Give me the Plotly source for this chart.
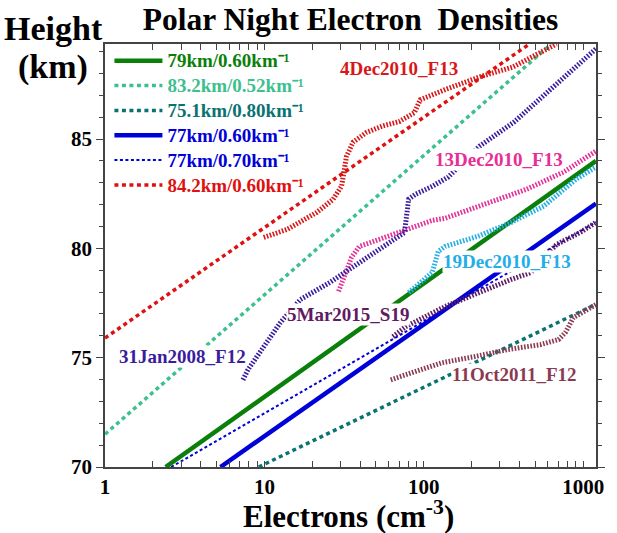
import plotly.graph_objects as go

# ---------------- data ----------------
# model (Wait-type) profiles: straight lines in log(Ne) vs height
M79_X = [2.4, 1202]
M79_H = [70.0, 84.0]
M832_X = [1.0, 630]
M832_H = [71.5, 89.35]
M751_X = [9.2, 1202]
M751_H = [70.0, 77.45]
M77_X = [5.3, 1202]
M77_H = [70.0, 82.05]
M77B_X = [2.6, 1202]
M77B_H = [70.0, 81.2]
M842_X = [1.0, 460]
M842_H = [75.9, 89.35]

# measured profiles
DEC4_X = [9.9, 13.9, 21.3, 27, 30.5, 31.5, 32.7, 36, 43.6, 55, 70, 87, 95, 140, 225, 363, 680]
DEC4_H = [80.5, 80.87, 81.65, 82.25, 82.85, 83.5, 84.2, 84.86, 85.3, 85.6, 85.8, 86.2, 86.8, 87.3, 87.85, 88.3, 89.35]
DEC13_X = [29.2, 31.8, 35.2, 39.4, 66.7, 113, 136, 218, 443, 751, 1202]
DEC13_H = [78.03, 78.81, 79.59, 80.09, 80.69, 81.28, 81.38, 81.93, 82.71, 83.49, 84.45]
DEC19_X = [80.3, 113, 123, 136, 218, 353, 565, 904, 1202]
DEC19_H = [77.98, 78.9, 79.86, 80.09, 80.55, 81.19, 81.93, 83.17, 83.72]
JAN31_X = [7.34, 7.88, 12.6, 16.8, 25.7, 36.2, 43.5, 52.4, 75.7, 80.3, 88.8, 113, 142, 224, 368, 1202]
JAN31_H = [73.99, 74.45, 76.61, 77.66, 78.44, 79.17, 79.59, 79.95, 80.73, 82.25, 82.48, 82.84, 83.26, 84.68, 85.78, 89.13]
MAR5_X = [64, 76.9, 136, 218, 353, 470, 680, 957, 1202]
MAR5_H = [75.96, 76.42, 77.34, 77.98, 78.58, 78.9, 80.18, 80.73, 81.19]
OCT11_X = [62, 130, 208, 334, 541, 700, 773, 866, 1202]
OCT11_H = [73.99, 74.77, 75.05, 75.37, 75.6, 75.83, 76.15, 76.83, 77.43]

X_TICKS = [1, 2, 3, 4, 5, 6, 7, 8, 9, 10, 20, 30, 40, 50, 60, 70, 80, 90,
           100, 200, 300, 400, 500, 600, 700, 800, 900, 1000]
X_TICKTEXT = ["1"] + [""] * 8 + ["10"] + [""] * 8 + ["100"] + [""] * 8 + ["1000"]
Y_TICKS = [70, 75, 80, 85]
Y_TICKTEXT = ["70", "75", "80", "85"]

TITLE = "Polar Night Electron&nbsp; Densities"
LABELS = ["4Dec2010_F13", "13Dec2010_F13", "19Dec2010_F13",
          "5Mar2015_S19", "31Jan2008_F12", "11Oct2011_F12"]

# ---------------- styles ----------------
SERIF = "Liberation Serif"
C_GREEN = "#0a7f0a"
C_SEA = "#3cc08e"
C_TEAL = "#0a7272"
C_BLUE = "#0000d8"
C_RED = "#e01010"
C_DEC4 = "#d81818"
C_DEC13 = "#e62e96"
C_DEC19 = "#22aee6"
C_JAN31 = "#3a1c9e"
C_MAR5 = "#5e1a62"
C_OCT11 = "#8a3a52"

fig = go.Figure()


def leg(text, color):
    return f'<span style="color:{color};font-size:19px">{text}km⁻¹</span>'


models = [
    (M79_X, M79_H, leg("79km/0.60", C_GREEN), C_GREEN, 4.5, "solid"),
    (M832_X, M832_H, leg("83.2km/0.52", C_SEA), C_SEA, 3.5, "4px,3.5px"),
    (M751_X, M751_H, leg("75.1km/0.80", C_TEAL), C_TEAL, 3.5, "4px,3.5px"),
    (M77_X, M77_H, leg("77km/0.60", C_BLUE), C_BLUE, 4.5, "solid"),
    (M77B_X, M77B_H, leg("77km/0.70", C_BLUE), C_BLUE, 2, "3px,2.5px"),
    (M842_X, M842_H, leg("84.2km/0.60", C_RED), C_RED, 3.5, "4px,3.5px"),
]
for xs, hs, name, col, w, dash in models:
    fig.add_trace(go.Scatter(x=xs, y=hs, mode="lines", name=name,
                             line=dict(color=col, width=w, dash=dash)))

profiles = [
    (DEC4_X, DEC4_H, C_DEC4),
    (DEC13_X, DEC13_H, C_DEC13),
    (JAN31_X, JAN31_H, C_JAN31),
    (DEC19_X, DEC19_H, C_DEC19),
    (MAR5_X, MAR5_H, C_MAR5),
    (OCT11_X, OCT11_H, C_OCT11),
]
for xs, hs, col in profiles:
    fig.add_trace(go.Scatter(x=xs, y=hs, mode="lines", showlegend=False,
                             line=dict(color=col, width=5, dash="1.6px,1.6px")))

# label positions (paper coords)
lab_pos = [(0.598, 0.943), (0.803, 0.7275), (0.819, 0.486),
           (0.494, 0.360), (0.157, 0.261), (0.833, 0.218)]
lab_col = [C_DEC4, C_DEC13, C_DEC19, C_MAR5, C_JAN31, C_OCT11]
annotations = []
for txt, (px, py), col in zip(LABELS, lab_pos, lab_col):
    annotations.append(dict(text=txt, x=px, y=py, xref="paper", yref="paper",
                            showarrow=False, xanchor="center", yanchor="middle",
                            bgcolor="white", borderpad=0,
                            font=dict(family=SERIF, size=19, color=col, weight="bold")))

annotations.append(dict(text="Height", x=-0.105, y=(467 - 30) / 422, xref="paper", yref="paper",
                        showarrow=False, xanchor="center", yanchor="middle",
                        font=dict(family=SERIF, size=34, color="black", weight="bold")))
annotations.append(dict(text="(km)", x=-0.105, y=(467 - 68) / 422, xref="paper", yref="paper",
                        showarrow=False, xanchor="center", yanchor="middle",
                        font=dict(family=SERIF, size=34, color="black", weight="bold")))
annotations.append(dict(text="Electrons (cm<sup>-3</sup>)", x=0.496, y=-0.112,
                        xref="paper", yref="paper", showarrow=False,
                        xanchor="center", yanchor="middle",
                        font=dict(family=SERIF, size=31, color="black", weight="bold")))

AX_COL = "#444444"
fig.update_layout(
    width=617, height=533,
    margin=dict(l=105, r=14, t=44, b=66),
    paper_bgcolor="white", plot_bgcolor="white",
    title=dict(text=TITLE, x=0.5, xref="paper", xanchor="center",
               y=1 - 19 / 533, yref="container", yanchor="middle",
               font=dict(family=SERIF, size=31.5, color="black", weight="bold")),
    legend=dict(x=0.009, y=1.0016, xanchor="left", yanchor="top",
                bgcolor="rgba(0,0,0,0)", tracegroupgap=0, itemwidth=48,
                font=dict(family=SERIF, size=16.8, weight="bold")),
    annotations=annotations,
    xaxis=dict(type="log", range=[0, 3.08], tickmode="array", tickvals=X_TICKS,
               ticktext=X_TICKTEXT, ticks="inside", ticklen=6, tickwidth=1.2,
               tickcolor=AX_COL, showline=True, linecolor=AX_COL, linewidth=1.5,
               mirror="ticks", showgrid=False, zeroline=False,
               tickfont=dict(family=SERIF, size=21, color="black", weight="bold")),
    yaxis=dict(range=[70, 89.35], tickmode="array", tickvals=Y_TICKS, ticktext=Y_TICKTEXT,
               ticks="outside", ticklen=7, tickwidth=1.2, tickcolor=AX_COL,
               minor=dict(tickmode="linear", tick0=70, dtick=1, ticks="outside",
                          ticklen=4, tickcolor=AX_COL),
               showline=True, linecolor=AX_COL, linewidth=1.5, mirror="ticks",
               showgrid=False, zeroline=False,
               tickfont=dict(family=SERIF, size=21, color="black", weight="bold")),
)

fig.write_html("out.html", config={"displayModeBar": False},
               post_script="document.body.style.margin='0';document.body.style.overflow='hidden';")
